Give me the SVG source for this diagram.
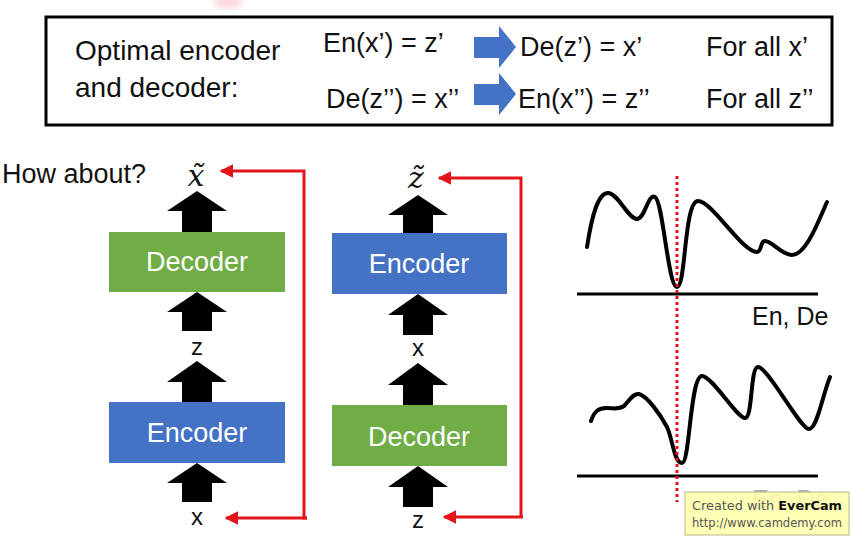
<svg xmlns="http://www.w3.org/2000/svg" width="851" height="539" viewBox="0 0 851 539">
<defs>
<style>
.t{font-family:"Liberation Sans",Arial,sans-serif;fill:#111}
.bx{font-family:"Liberation Sans",Arial,sans-serif;fill:#fff;font-size:27px;text-anchor:middle}
.lbl{font-family:"Liberation Sans",Arial,sans-serif;fill:#111;font-size:24px;text-anchor:middle}
.math{font-family:"DejaVu Serif","Liberation Serif",serif;font-style:italic;font-size:30px;fill:#111;text-anchor:middle}
.blk{fill:#000}
.red{fill:none;stroke:#E3141B;stroke-width:3}
.curve{fill:none;stroke:#000;stroke-width:4;stroke-linecap:round;stroke-linejoin:round}
.axis{stroke:#000;stroke-width:3}
.blue{fill:#4472C4}
</style>
<marker id="rh" viewBox="0 0 10 10" refX="9" refY="5" markerWidth="4.5" markerHeight="4.5" orient="auto" markerUnits="strokeWidth">
<path d="M0,0 L10,5 L0,10 z" fill="#E3141B"/>
</marker>
<filter id="blur"><feGaussianBlur stdDeviation="4"/></filter>
</defs>
<rect width="851" height="539" fill="#fff"/>
<ellipse cx="228" cy="2" rx="14" ry="6" fill="#F4A0A8" opacity="0.5" filter="url(#blur)"/>

<g id="formula-box">
<rect x="46" y="17" width="786" height="108" fill="#fff" stroke="#000" stroke-width="3"/>
<text class="t" x="75" y="60" font-size="28">Optimal encoder</text>
<text class="t" x="75" y="97" font-size="28">and decoder:</text>
<text class="t" x="323" y="52" font-size="27">En(x’) = z’</text>
<text class="t" x="520" y="56" font-size="27">De(z’) = x’</text>
<text class="t" x="706" y="56" font-size="27">For all x’</text>
<text class="t" x="326" y="108" font-size="27">De(z’’) = x’’</text>
<text class="t" x="518" y="108" font-size="27">En(x’’) = z’’</text>
<text class="t" x="706" y="108" font-size="27">For all z’’</text>
<path class="blue" d="M474,37 H499 V26 L516,47 L499,68 V58 H474 z"/>
<path class="blue" d="M474,84 H499 V73 L516,94 L499,115 V105 H474 z"/>
</g>

<text class="t" x="2" y="183" font-size="27">How about?</text>

<g id="left-chain">
<text class="math" x="196" y="186">x̃</text>
<path class="blk" d="M197,191 L227,211 H212 V232 H182 V211 H167 z"/>
<g id="decoder-left">
<rect x="109" y="232" width="176" height="60" fill="#70AD47"/>
<text class="bx" x="197" y="271">Decoder</text>
</g>
<path class="blk" d="M197,292 L227,312 H212 V331 H182 V312 H167 z"/>
<text class="lbl" x="197" y="355">z</text>
<path class="blk" d="M197,361 L227,382 H212 V402 H182 V382 H167 z"/>
<g id="encoder-left">
<rect x="109" y="402" width="176" height="61" fill="#4472C4"/>
<text class="bx" x="197" y="442">Encoder</text>
</g>
<path class="blk" d="M197,463 L227,483 H212 V502 H182 V483 H167 z"/>
<text class="lbl" x="197" y="525">x</text>
</g>

<g id="middle-chain">
<text class="math" x="416" y="188">z̃</text>
<path class="blk" d="M418,195 L448,215 H433 V233 H403 V215 H388 z"/>
<g id="encoder-mid">
<rect x="332" y="233" width="175" height="61" fill="#4472C4"/>
<text class="bx" x="419" y="273">Encoder</text>
</g>
<path class="blk" d="M418,294 L448,315 H433 V335 H403 V315 H388 z"/>
<text class="lbl" x="418" y="356">x</text>
<path class="blk" d="M418,363 L448,385 H433 V405 H403 V385 H388 z"/>
<g id="decoder-mid">
<rect x="332" y="405" width="175" height="61" fill="#70AD47"/>
<text class="bx" x="419" y="446">Decoder</text>
</g>
<path class="blk" d="M418,466 L448,487 H433 V507 H403 V487 H388 z"/>
<text class="lbl" x="418" y="528">z</text>
</g>

<g id="connectors">
<path class="red" d="M307,518 H304 V171 H221" marker-end="url(#rh)"/>
<path class="red" d="M307,518 H226" marker-end="url(#rh)"/>
<path class="red" d="M521,517 V178 H439" marker-end="url(#rh)"/>
<path class="red" d="M523,517 H444" marker-end="url(#rh)"/>
</g>

<g id="chart-top">
<line class="axis" x1="577" y1="294" x2="818" y2="294"/>
<path class="curve" d="M587,247 C592,215 598,193 608,193 C618,193 628,219 637,219 C645,219 648,193 655,197 C663,201 668,287 677,287 C686,287 684,201 698,201 C712,201 742,252 757,252 C762,252 760,241 765,241 C772,241 782,255 792,255 C806,255 818,222 827,202"/>
<text class="t" x="752" y="325" font-size="25">En, De</text>
</g>

<g id="chart-bottom">
<line class="axis" x1="577" y1="476" x2="818" y2="476"/>
<path class="curve" d="M591,421 C594,412 598,408 606,408 C614,408 618,410 624,406 C630,400 633,393 639,394 C647,396 660,414 667,427 C673,440 674,463 682,463 C690,463 690,376 702,376 C712,376 737,418 745,418 C753,418 750,367 758,367 C768,367 800,429 809,429 C817,429 822,397 830,377"/>
<text class="t" x="752" y="508" font-size="25" fill-opacity="0.35">En, De</text>
</g>

<line x1="677" y1="176" x2="677" y2="502" stroke="#E3141B" stroke-width="3" stroke-dasharray="3,3"/>

<g id="watermark">
<rect x="685" y="492" width="164" height="43" fill="#FFFFA8" fill-opacity="0.85" stroke="#B8B88A" stroke-width="1"/>
<text x="692" y="510" font-family="DejaVu Sans,Verdana,sans-serif" font-size="13" fill="#555" textLength="150" lengthAdjust="spacingAndGlyphs">Created with <tspan font-weight="bold" fill="#111">EverCam</tspan></text>
<text x="692" y="527" font-family="DejaVu Sans,Verdana,sans-serif" font-size="13" fill="#555" textLength="150" lengthAdjust="spacingAndGlyphs">http://www.camdemy.com</text>
</g>
</svg>
